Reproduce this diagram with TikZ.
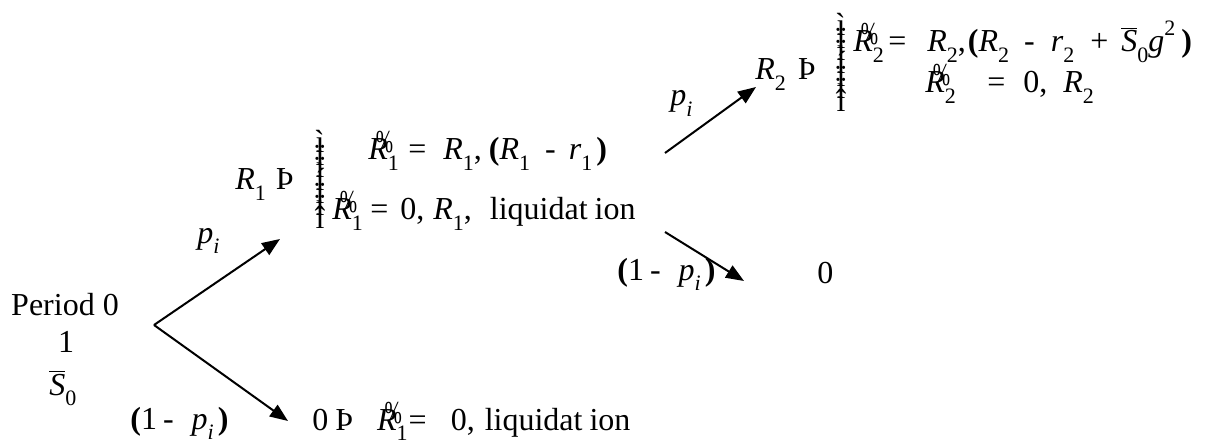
\documentclass[tikz,border=0pt]{standalone}
\usepackage{fontspec}
\usepackage{graphicx}
\setmainfont{Liberation Serif}
\usetikzlibrary{arrows.meta,positioning}

\newcommand\sub[1]{\raisebox{-0.32em}{\fontsize{11}{11}\selectfont #1}}
\newcommand\sups[1]{\raisebox{0.5em}{\fontsize{11}{11}\selectfont #1}}
\newcommand\Rt[1]{\textit{R}\rlap{\kern-6pt\raisebox{3.5pt}{\scalebox{0.65}[1]{\%}}}\sub{#1}}
\newcommand\Ri[1]{\textit{R}\sub{#1}}
\newcommand\pI{\textit{p}\sub{\textit{i}}}
\newcommand\Sb{\ensuremath{\overline{\hbox{\textit{S}}}}}
\newcommand\hs[1]{\hspace{#1pt}}
\newcommand\liq{liquidat\hs{3.5}ion}
\newcommand\bracecol{\vbox{\baselineskip=6.3pt\lineskiplimit=-100pt\lineskip=0pt
  \halign{\hfil##\hfil\cr ì\cr ï\cr ï\cr í\cr ï\cr ï\cr î\cr}}}

\begin{document}
\begin{tikzpicture}[x=0.5pt,y={(0pt,-0.5pt)},
  every node/.style={inner sep=0pt,font=\fontsize{16}{19}\selectfont},
  lbl/.style={anchor=base west},
  tip/.style={-{Triangle[length=9pt,width=7pt]},line width=1pt}]
  \useasboundingbox (0,0) rectangle (1208,443);
  % period 0
  \node[anchor=base] (period) at (65,315) {Period 0};
  \node[anchor=base] (one) at (66,352) {1};
  \node[lbl] (sbar) at (49,395) {\Sb\sub{0}};
  \node[lbl] (q0) at (130,429) {\textbf{(}1\hs{3}-\hs{9}\pI\hs{2}\textbf{)}};
  \node[lbl] (zero1) at (312,430) {0\hs{3.5}Þ\hs{12}\Rt{1}\hs{0.5}=\hs{12}0,\hs{5}\liq};
  % period 1
  \node[lbl] (p0) at (197,243) {\pI};
  \node[lbl] (R1) at (235,190) {\Ri{1}\hs{5}Þ};
  \node[anchor=north] (brace1) at (320,130) {\bracecol};
  \node[lbl] (R1a) at (368,160) {\Rt{1}\hs{4.7}=\hs{8.5}\Ri{1},\hs{3.5}\textbf{(}\Ri{1}\hs{7.5}-\hs{6.5}\textit{r}\sub{1}\hs{2}\textbf{)}};
  \node[lbl] (R1b) at (332,220) {\Rt{1}\hs{3.7}=\hs{6}0,\hs{4.5}\Ri{1},\hs{9}\liq};
  \node[lbl] (q1) at (617,280) {\textbf{(}1\hs{3}-\hs{9}\pI\hs{2}\textbf{)}};
  \node[lbl] (zero2) at (817,283) {0};
  % period 2
  \node[lbl] (p1) at (670,106) {\pI};
  \node[lbl] (R2) at (755,80) {\Ri{2}\hs{6}Þ};
  \node[anchor=north] (brace2) at (841,13) {\bracecol};
  \node[lbl] (R2a) at (853,52) {\Rt{2}\hs{2.2}=\hs{10.5}\Ri{2},\hs{1}\textbf{(}\Ri{2}\hs{7.5}-\hs{8}\textit{r}\sub{2}\hs{8}+\hs{6.5}\Sb\sub{0}\textit{g}\sups{2}\hs{3}\textbf{)}};
  \node[lbl] (R2b) at (925,93) {\Rt{2}\hs{15.7}=\hs{9}0,\hs{8}\Ri{2}};
  % branches
  \coordinate (root) at (154,325);
  \coordinate (up1) at (280,239);
  \coordinate (dn1) at (288,421);
  \coordinate (mid1) at (665,153);
  \coordinate (up2) at (756,87);
  \coordinate (mid2) at (665,232);
  \coordinate (dn2) at (744,281);
  \foreach \a/\b in {root/up1,root/dn1,mid1/up2,mid2/dn2}
    \draw[tip] (\a) -- (\b);
\end{tikzpicture}
\end{document}
